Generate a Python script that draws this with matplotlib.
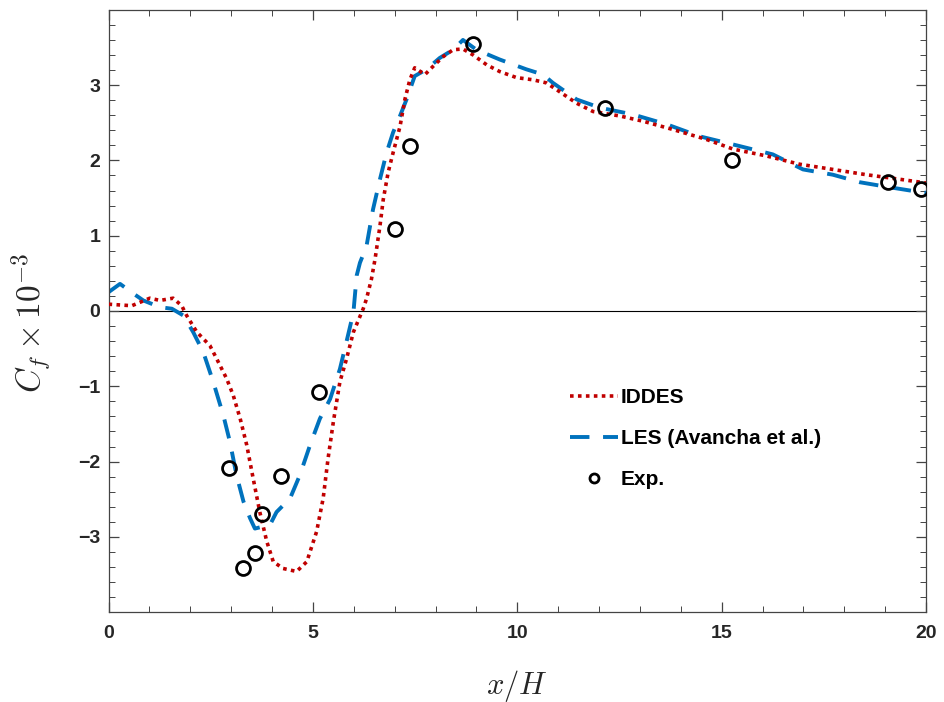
import matplotlib
matplotlib.use("Agg")
import matplotlib.pyplot as plt
from matplotlib.ticker import MultipleLocator

plt.rcParams['font.family'] = ['Liberation Sans', 'DejaVu Sans']
plt.rcParams['mathtext.fontset'] = 'cm'

# IDDES (red dotted)
iddes_x = [0.0, 0.57, 1.01, 1.26, 1.58, 1.79, 1.91, 2.16, 2.48, 2.65, 2.89, 3.05, 3.22, 3.38,
           3.54, 3.70, 3.87, 4.03, 4.27, 4.60, 4.85, 5.09, 5.25, 5.37, 5.50, 5.66, 5.82,
           5.99, 6.23, 6.31, 6.43, 6.52, 6.64, 6.72, 6.84, 6.96, 7.13, 7.25, 7.37, 7.49,
           7.74, 7.94, 8.19, 8.43, 8.67, 8.92, 9.25, 9.57, 9.98, 10.39, 10.71, 10.96,
           11.45, 11.85, 12.51, 13.08, 13.81, 14.62, 15.28, 16.09, 16.90, 17.72, 18.54,
           19.35, 20.0]
iddes_y = [0.09, 0.07, 0.17, 0.14, 0.17, 0.07, -0.06, -0.28, -0.46, -0.64, -0.90, -1.12,
           -1.43, -1.78, -2.23, -2.67, -3.06, -3.33, -3.42, -3.46, -3.33, -2.93, -2.49,
           -1.96, -1.47, -0.94, -0.64, -0.28, 0.03, 0.16, 0.42, 0.69, 1.13, 1.48, 1.84,
           2.10, 2.45, 2.81, 3.07, 3.23, 3.14, 3.25, 3.38, 3.47, 3.48, 3.40, 3.27, 3.18,
           3.10, 3.07, 3.03, 2.94, 2.76, 2.65, 2.59, 2.52, 2.41, 2.28, 2.15, 2.06, 1.95,
           1.88, 1.81, 1.75, 1.70]

# LES (Avancha et al.) (blue dashed)
les_x = [0.0, 0.28, 0.61, 0.85, 1.26, 1.55, 1.83, 2.07, 2.32, 2.56, 2.81, 2.97, 3.13, 3.30,
         3.46, 3.58, 3.95, 4.11, 4.44, 4.68, 4.93, 5.17, 5.42, 5.66, 5.82, 5.99, 6.07,
         6.15, 6.31, 6.47, 6.64, 6.80, 6.96, 7.13, 7.29, 7.49, 7.78, 8.10, 8.43, 8.67,
         9.00, 9.57, 10.22, 10.63, 10.87, 11.45, 12.02, 12.83, 13.65, 14.46, 15.44,
         16.25, 16.99, 17.72, 18.38, 19.03, 19.84, 20.0]
les_y = [0.25, 0.36, 0.23, 0.14, 0.05, 0.03, -0.06, -0.28, -0.55, -0.94, -1.39, -1.74,
         -2.18, -2.53, -2.75, -2.89, -2.84, -2.67, -2.49, -2.18, -1.78, -1.43, -1.17,
         -0.77, -0.41, -0.02, 0.47, 0.64, 0.86, 1.35, 1.75, 2.10, 2.37, 2.59, 2.81,
         3.12, 3.21, 3.36, 3.47, 3.60, 3.47, 3.34, 3.21, 3.14, 3.03, 2.81, 2.70, 2.61,
         2.48, 2.32, 2.19, 2.08, 1.88, 1.81, 1.71, 1.65, 1.58, 1.57]

# Experiment
exp_x = [2.95, 3.29, 3.58, 3.75, 4.22, 5.15, 7.00, 7.37, 8.91, 12.14, 15.25, 19.06, 19.87]
exp_y = [-2.09, -3.42, -3.21, -2.70, -2.19, -1.07, 1.09, 2.19, 3.54, 2.70, 2.00, 1.71, 1.62]

fig = plt.figure(figsize=(9.44, 7.02), dpi=100)
ax = fig.add_axes([0.115, 0.128, 0.866, 0.858])

ax.axhline(0, color='black', lw=0.8, zorder=1)
l1, = ax.plot(iddes_x, iddes_y, color='#C00000', lw=2.6, linestyle=(0, (1, 1.2)),
              label='IDDES', zorder=3)
l2, = ax.plot(les_x, les_y, color='#0072BD', lw=2.8, linestyle=(0, (5, 3.5)),
              label='LES (Avancha et al.)', zorder=2)
l3, = ax.plot(exp_x, exp_y, linestyle='none', marker='o', markersize=10,
              markerfacecolor='none', markeredgecolor='black', markeredgewidth=2,
              label='Exp.', zorder=4)

ax.set_xlim(0, 20)
ax.set_ylim(-4, 4)
ax.set_xticks([0, 5, 10, 15, 20])
ax.set_yticks([-3, -2, -1, 0, 1, 2, 3])
ax.xaxis.set_minor_locator(MultipleLocator(1))
ax.yaxis.set_minor_locator(MultipleLocator(0.2))
ax.tick_params(which='both', direction='in', top=True, right=True, color='#444444')
ax.tick_params(which='major', length=7, width=0.9, labelsize=14)
ax.tick_params(axis='x', which='major', pad=9)
ax.tick_params(axis='y', which='major', pad=6)
ax.tick_params(which='minor', length=4, width=0.7)
for lab in ax.get_xticklabels() + ax.get_yticklabels():
    lab.set_fontweight('bold')
    lab.set_color('#262626')
for s in ax.spines.values():
    s.set_color('#444444')
    s.set_linewidth(0.9)

ax.set_xlabel(r'$x/H$', fontsize=22, color='#262626')
ax.set_ylabel(r'$C_f \times 10^{-3}$', fontsize=24, color='#262626')
ax.xaxis.set_label_coords(0.5, -0.092)
ax.yaxis.set_label_coords(-0.068, 0.48)

leg = ax.legend(handles=[l1, l2, l3], loc='upper left', bbox_to_anchor=(0.5645, 0.372),
                frameon=False, prop={'weight': 'bold', 'size': 15},
                handlelength=2.3, handletextpad=0.15, labelspacing=1.05,
                borderpad=0, borderaxespad=0, markerscale=0.65)

fig.savefig('out.png', dpi=100)
